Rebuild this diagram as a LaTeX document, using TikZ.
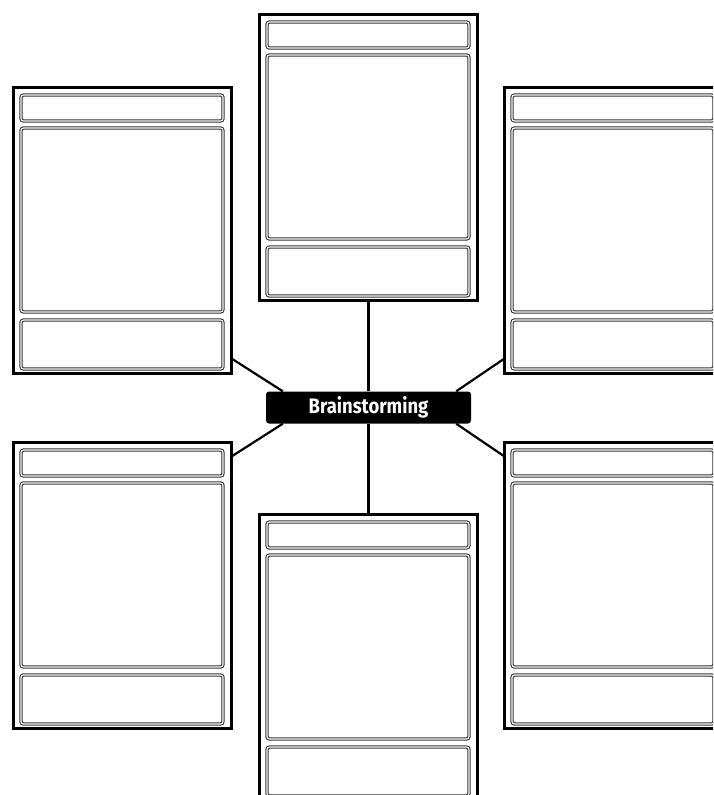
\documentclass[tikz,border=0pt]{standalone}
\usepackage{fontspec}
\setsansfont{Fira Sans}
\usetikzlibrary{calc}
\tikzset{
  outerbox/.style={draw=black, line width=3pt, fill=white, minimum width=218pt, minimum height=286pt, inner sep=0pt, outer sep=0pt, anchor=north west},
  innerbox/.style={draw=black!80, double=white, line width=1.1pt, double distance=1.1pt, rounded corners=2.5pt, minimum width=202pt, inner sep=0pt, outer sep=0pt, anchor=north west},
  link/.style={draw=black, line width=2.2pt},
  label/.style={fill=black, rounded corners=3pt, minimum width=205pt, minimum height=32pt, inner sep=0pt, text=white, font=\sffamily\bfseries\fontsize{21}{21}\selectfont}
}
\newcommand{\cardbox}[3]{%
  \node[outerbox] (#1) at (#2,#3) {};
  \node[innerbox, minimum height=26pt] (#1h) at ($(#1.north west)+(7.5,7.5)$) {};
  \node[innerbox, minimum height=184pt] (#1m) at ($(#1.north west)+(7.5,40.5)$) {};
  \node[innerbox, minimum height=49pt] (#1f) at ($(#1.north west)+(7.5,232.5)$) {};
}
\begin{document}
\begin{tikzpicture}[x=1pt, y=-1pt]
\clip (0,0) rectangle (713,795);
\fill[white] (0,0) rectangle (713,795);
\cardbox{tc}{259.5}{14.5}
\cardbox{tl}{13.5}{87.5}
\cardbox{tr}{504.5}{87.5}
\cardbox{bl}{13.5}{442.5}
\cardbox{br}{504.5}{442.5}
\cardbox{bc}{259.5}{514.5}
\node[label] (lbl) at (368.5,407.5) {\scalebox{0.88}[1]{Brainstorming}};
\draw[link] (tc.south) -- (tc.south |- lbl.north);
\draw[link] (bc.north) -- (bc.north |- lbl.south);
\draw[link] ($(tl.south east)+(0,-15)$) -- ($(lbl.north west)+(17,0)$);
\draw[link] ($(bl.north east)+(0,14)$) -- ($(lbl.south west)+(17,0)$);
\draw[link] ($(tr.south west)+(0,-15)$) -- ($(lbl.north east)+(-15,0)$);
\draw[link] ($(br.north west)+(0,14)$) -- ($(lbl.south east)+(-15,0)$);
\end{tikzpicture}
\end{document}
